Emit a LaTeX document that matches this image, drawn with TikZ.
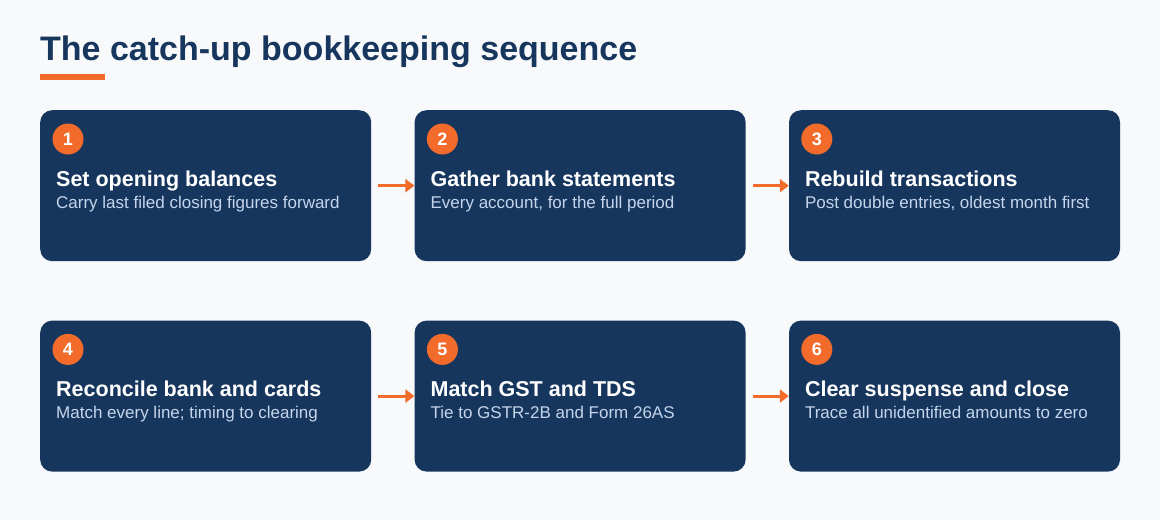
\documentclass[tikz,border=0pt]{standalone}
\usepackage{fontspec}
\setmainfont{Liberation Sans}
\usetikzlibrary{
    arrows.meta,
    positioning,
    calc
}
\definecolor{navy}{HTML}{17365D}
\definecolor{accent}{HTML}{F26B2B}
\definecolor{paper}{HTML}{F7F9FB}
\definecolor{subtext}{HTML}{C5D5EC}

\begin{document}
\begin{tikzpicture}[
        x=1pt, y=-1pt,
        node distance=59pt and 43pt,
        stepbox/.style={
            rectangle,
            rounded corners=12pt,
            fill=navy,
            minimum width=331pt,
            minimum height=151pt,
            inner sep=0pt
        },
        badge/.style={
            circle,
            fill=accent,
            minimum size=31pt,
            inner sep=0pt,
            text=white,
            font=\fontsize{18}{18}\selectfont\bfseries
        },
        heading/.style={
            anchor=base west,
            inner sep=0pt,
            text=white,
            font=\fontsize{21.5}{21.5}\selectfont\bfseries
        },
        detail/.style={
            anchor=base west,
            inner sep=0pt,
            text=subtext,
            font=\fontsize{17}{17}\selectfont
        },
        arrow/.style={
            -{Triangle[length=9pt,width=13pt]},
            line width=3pt,
            draw=accent,
            shorten <=7pt
        }
    ]
        % Page and title
        \fill[paper] (0,0) rectangle (1160,520);
        \useasboundingbox (0,0) rectangle (1160,520);
        \node[anchor=base west, inner sep=0pt, text=navy,
            font=\fontsize{34}{34}\selectfont\bfseries] (title) at (40,60)
            {The catch-up bookkeeping sequence};
        \fill[accent] (40,74) rectangle (105,80);

        % Step boxes
        \node[stepbox, anchor=north west] (opening) at (40,110) {};
        \node[stepbox, right=of opening] (gather) {};
        \node[stepbox, right=of gather] (rebuild) {};
        \node[stepbox, below=of opening] (reconcile) {};
        \node[stepbox, below=of gather] (match) {};
        \node[stepbox, below=of rebuild] (suspense) {};

        % Badges and texts
        \foreach \card/\num/\head/\sub in {
            opening/1/Set opening balances/Carry last filed closing figures forward,
            gather/2/Gather bank statements/{Every account, for the full period},
            rebuild/3/Rebuild transactions/{Post double entries, oldest month first},
            reconcile/4/Reconcile bank and cards/Match every line; timing to clearing,
            match/5/Match GST and TDS/Tie to GSTR-2B and Form 26AS,
            suspense/6/Clear suspense and close/Trace all unidentified amounts to zero%
        }{
            \node[badge] (\card-num) at ($(\card.north west)+(28,29)$) {\num};
            \node[heading] (\card-head) at ($(\card.north west)+(16,76)$) {\head};
            \node[detail] (\card-sub) at ($(\card.north west)+(16,98)$) {\sub};
        }

        % Flow arrows
        \draw[arrow] (opening) -- (gather);
        \draw[arrow] (gather) -- (rebuild);
        \draw[arrow] (reconcile) -- (match);
        \draw[arrow] (match) -- (suspense);
    \end{tikzpicture}
\end{document}
